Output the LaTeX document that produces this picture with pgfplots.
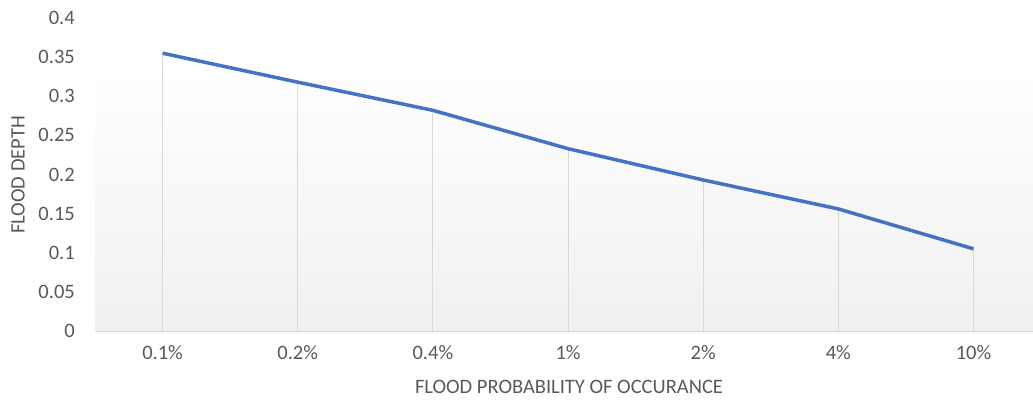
\documentclass[border=0pt]{standalone}
\usepackage{pgfplots}
\pgfplotsset{compat=1.18}
\usepackage{fontspec}
\setmainfont{Carlito}
\definecolor{txt}{RGB}{89,89,89}
\definecolor{ln}{RGB}{68,114,196}
\definecolor{gridc}{RGB}{217,217,217}
\definecolor{bg}{RGB}{240,240,240}
\begin{document}
\begin{tikzpicture}[x=1pt,y=1pt]
\path[use as bounding box] (-95,-71) rectangle (938,331);
\begin{axis}[
  at={(0,0)}, anchor=south west,
  scale only axis, width=938pt, height=313pt,
  xmin=-0.5, xmax=6.44, ymin=0, ymax=0.4,
  axis x line=bottom, axis y line=none,
  axis line style={gridc, line width=1pt, -},
  xtick={0,1,2,3,4,5,6},
  xticklabels={0.1\%,0.2\%,0.4\%,1\%,2\%,4\%,10\%},
  ytick=\empty,
  major tick length=0pt,
  tick label style={font=\fontsize{20.5}{22}\selectfont, text=txt},
  xticklabel style={yshift=-11pt},
  clip=false,
]
\fill[bottom color=bg, top color=white] (axis cs:-0.5,0) rectangle (axis cs:6.44,0.3335);
\foreach \v in {0,0.05,0.1,0.15,0.2,0.25,0.3,0.35,0.4}{
  \edef\tmp{\noexpand\node[anchor=east, text=txt, font=\noexpand\fontsize{20.5}{22}\noexpand\selectfont, inner sep=0pt] at (axis cs:-0.5,\v) [xshift=-20pt] {\v};}\tmp
}
\addplot[ycomb, gridc, line width=1pt, mark=none] coordinates {
(0,0.355) (1,0.318) (2,0.282) (3,0.233) (4,0.193) (5,0.156) (6,0.105)};
\addplot[ln, line width=3.5pt, mark=none] coordinates {
(0,0.355) (1,0.318) (2,0.282) (3,0.233) (4,0.193) (5,0.156) (6,0.105)};
\draw[gridc, line width=1pt] (axis cs:-0.5,0) -- (axis cs:6.44,0);
\end{axis}
\node[text=txt, font=\fontsize{20.5}{22}\selectfont] at (474,-56) {FLOOD PROBABILITY OF OCCURANCE};
\node[text=txt, font=\fontsize{20.5}{22}\selectfont, rotate=90] at (-77,156) {FLOOD DEPTH};
\end{tikzpicture}
\end{document}
